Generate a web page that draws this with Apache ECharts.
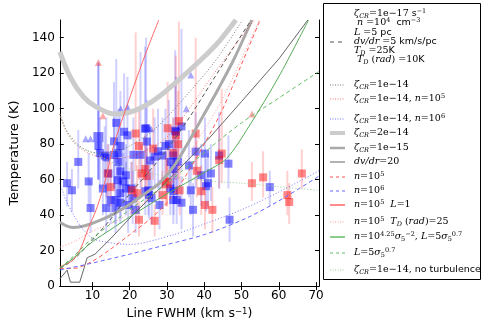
<!DOCTYPE html>
<html>
<head>
<meta charset="utf-8">
<script src="https://cdn.jsdelivr.net/npm/echarts@6/dist/echarts.min.js"></script>
<style>
html, body { margin: 0; padding: 0; background: #fff; }
#main { width: 484px; height: 325px; }
</style>
</head>
<body>
<div id="main"></div>
<script>
// tick labels
var xTicks = [10, 20, 30, 40, 50, 60, 70];
var yTicks = [0, 20, 40, 60, 80, 100, 120, 140];

// observed clumps: [FWHM, T, T low, T high]
var blueSq = [
	[3.2, 58, 45, 70], [4.5, 54, 42, 66], [6.2, 70, 55, 88], [9, 59, 45, 75], [9.5, 44, 30, 60],
	[11.6, 79, 60, 100], [12, 75, 55, 95], [12.8, 55, 40, 70], [13.3, 73.6, 55, 90], [13.7, 72.5, 50, 95],
	[13.7, 44, 30, 58], [14.3, 63.5, 45, 80], [14.9, 48.5, 35, 62], [15.8, 81.6, 55, 115], [15.8, 74, 55, 95],
	[16.2, 48.5, 35, 62], [16.2, 44, 30, 58], [16.4, 92, 60, 128], [16.8, 59.7, 45, 75], [17, 75, 55, 100],
	[17, 70, 50, 90], [17.5, 79, 55, 110], [17.5, 64.7, 45, 85], [17.5, 52.4, 38, 68], [17.5, 47, 35, 60],
	[18.3, 59, 45, 75], [18.5, 87, 60, 120], [19, 62.5, 45, 80], [19, 55, 40, 70], [19.4, 85, 55, 118],
	[19.6, 45.7, 30, 60], [20.4, 55, 40, 70], [20.8, 49.6, 35, 65], [21, 74, 55, 95], [21.6, 43, 30, 58],
	[22.9, 74, 55, 132], [24.1, 88.7, 65, 135], [24.2, 53.5, 40, 68], [24.4, 89, 60, 140], [24.6, 81.5, 60, 105],
	[25, 54, 40, 70], [25.2, 51.4, 38, 66], [25.5, 70.8, 52, 90], [25.9, 49.6, 35, 65], [26.7, 73, 55, 95],
	[27.6, 76, 55, 100], [28, 45.7, 32, 60], [28.8, 73.6, 55, 95], [29.6, 79, 60, 100], [30.5, 80, 60, 105],
	[30.9, 55, 40, 70], [31, 70, 50, 90], [31.7, 73.6, 55, 95], [31.7, 48.5, 35, 65], [31.8, 66, 50, 85],
	[31.8, 53.5, 40, 70], [32.2, 87.6, 60, 133], [32.4, 87, 55, 118], [32.6, 48.5, 35, 62], [32.9, 70, 50, 90],
	[33.9, 90, 65, 145], [33.9, 47, 32, 62], [35.9, 68, 50, 88], [36.4, 54, 40, 70], [37, 43, 28, 58],
	[37.7, 75.8, 55, 98], [39.2, 62.5, 45, 80], [40.2, 74.7, 55, 95], [40.5, 56.3, 42, 72], [41, 58, 45, 75],
	[41.8, 63.5, 48, 80], [44, 73.6, 55, 98], [46.5, 69, 55, 85], [46.8, 37.4, 25, 50], [57.6, 55.8, 45, 65]
];
var blueBig = [[11.6, 84, 60, 126]];
var redSq = [
	[14.1, 63.5, 50, 80], [14.9, 55.8, 45, 70], [20.6, 54, 40, 70], [21.6, 86, 65, 143], [22, 52.4, 40, 68],
	[22.5, 79, 60, 100], [22.5, 37.4, 28, 48], [23.2, 63.5, 50, 80], [24.2, 66, 50, 85], [24.6, 62, 48, 78],
	[26.3, 77.5, 60, 100], [26.7, 36.8, 28, 46], [28.8, 51.3, 40, 65], [29.6, 59, 45, 75], [30.2, 89, 65, 115],
	[31.7, 75, 58, 95], [32.4, 85, 60, 130], [33, 80, 60, 110], [33.2, 93, 65, 149], [33.4, 54, 40, 68],
	[37.7, 86, 65, 140], [38, 65, 50, 82], [39.2, 53.5, 40, 68], [40.2, 45.7, 32, 60], [42.2, 43, 30, 56],
	[44, 71, 55, 90], [44.7, 74.7, 58, 111], [52.8, 58, 48, 70], [55.8, 61.3, 50, 76], [62.3, 51.3, 40, 65],
	[62.8, 47.4, 35, 58], [66.2, 63.5, 55, 77]
];
var redBig = [[30, 58, 45, 72]];
var blueTri = [[8.2, 83], [9.5, 83], [17.6, 100], [19.4, 101], [25.2, 89], [25.7, 88.7], [35.2, 100], [36.4, 119]];
var redTri = [[11.6, 126], [12.8, 96], [52.8, 97]];

// model curves: [FWHM, T]
var fiducial = [[1.25, 10], [3, 12], [6, 17], [10, 26], [15, 38], [20, 52], [25, 64], [30, 77], [36, 95], [42, 115], [48, 135], [52.6, 150]];
var cr14 = [[1.25, 97], [3, 88], [6, 80], [9, 76], [12, 75], [16, 76], [20, 79], [27, 89], [35, 107], [43, 127], [50.3, 150]];
var cr14n5 = [[1.25, 97], [3, 87], [6, 79], [10, 74], [15, 72], [20, 73], [25, 77], [30, 84], [36, 100], [42, 118], [48, 135], [53.5, 150]];
var cr14n6 = [[1.25, 58], [3, 48], [5, 40], [7.5, 32], [10, 27], [13, 25], [20, 23.5], [31, 28.5], [40, 35], [50, 43], [60, 53], [70.8, 65]];
var cr2e14 = [[1.25, 132], [4, 118], [7.5, 107], [11, 101], [15.8, 97], [20, 98], [24, 101.5], [28, 107], [33.4, 116.6], [39.2, 127.7], [44, 138], [48.5, 150]];
var cr1e15 = [[1.25, 36], [3, 34], [5, 33], [8, 34], [12, 37], [16, 41], [20, 46], [24, 52], [28, 58], [32, 68], [36, 82], [40, 97], [44, 112], [48, 128], [52.8, 150]];
var dvdr20 = [[1.25, 4], [3.2, 9], [4.1, 2.2], [6.6, 2.2], [8.6, 16], [10.7, 18], [15, 27], [20.8, 40], [30, 59], [41.6, 84], [50, 104], [60, 128], [67.8, 150]];
var n5 = [[1.25, 10], [5, 10], [10, 14], [15, 21], [20, 29], [25, 37], [30, 47], [35, 62], [40, 80], [45, 100], [50, 125], [55, 150]];
var n6 = [[1.25, 9], [10, 13], [20, 18], [30, 23.4], [40, 29], [51, 38], [60, 48], [70.8, 62]];
var n5L1 = [[1.25, 11], [3, 12.5], [5, 15], [7, 22], [9, 33], [11, 43], [13, 56], [15.8, 80], [18.5, 97], [22, 118], [25, 135], [27.8, 150]];
var n5Trad = [[1.25, 22], [5, 25], [10, 31], [15.8, 36], [20, 41], [25, 49], [30, 58], [35, 72], [40, 88], [45, 106], [50, 128], [54.8, 150]];
var nSigma = [[1.25, 10], [5, 16], [10, 25], [15, 32], [20, 39], [30, 52], [40, 64], [46, 72], [52, 90], [60, 118], [68, 150]];
var lSigma = [[1.25, 10], [5, 17], [10, 27], [20, 43], [30, 58], [41, 77], [50, 92], [60, 106], [70.8, 121]];
var noTurb = [[1.25, 97], [2.5, 90], [5, 81], [8, 77], [11.5, 74], [15, 70], [20, 66], [30, 62], [40, 59.5], [50, 58], [60, 56], [70.8, 54]];

var chart = echarts.init(document.getElementById('main'));

function curve(data, color, width, type, smooth) {
	return {
		type : 'line',
		data : data,
		showSymbol : false,
		smooth : smooth === undefined ? 0.3 : smooth,
		silent : true,
		lineStyle : { color : color, width : width, type : type },
		z : 5
	};
}

function errBars(data, color) {
	return {
		type : 'custom',
		silent : true,
		z : 3,
		data : data.map(function(d) { return [d[0], d[2], d[3]]; }),
		renderItem : function(params, api) {
			var p1 = api.coord([api.value(0), api.value(1)]);
			var p2 = api.coord([api.value(0), api.value(2)]);
			return {
				type : 'line',
				shape : { x1 : p1[0], y1 : p1[1], x2 : p2[0], y2 : p2[1] },
				style : { stroke : color, lineWidth : 2 }
			};
		}
	};
}

function points(data, symbol, size, color) {
	return {
		type : 'scatter',
		symbol : symbol,
		symbolSize : size,
		silent : true,
		z : 4,
		data : data.map(function(d) { return [d[0], d[1]]; }),
		itemStyle : { color : color }
	};
}

var blueA = 'rgba(0,0,255,0.62)';
var redA = 'rgba(255,0,0,0.58)';

// legend rows: y position, sample style, text
var rich = {
	m : { fontFamily : 'DejaVu Serif', fontStyle : 'italic', fontSize : 9.5, fill : '#000' },
	n : { fontFamily : 'DejaVu Serif', fontSize : 9.5, fill : '#000' },
	s : { fontFamily : 'DejaVu Sans', fontSize : 9.5, fill : '#000' },
	sb : { fontFamily : 'DejaVu Serif', fontStyle : 'italic', fontSize : 6.5, fill : '#000', verticalAlign : 'bottom' },
	sbn : { fontFamily : 'DejaVu Serif', fontSize : 6.5, fill : '#000', verticalAlign : 'bottom' },
	sp : { fontFamily : 'DejaVu Serif', fontSize : 6.5, fill : '#000', verticalAlign : 'top' }
};
var legendRows = [
	[14, null, '{m|ζ}{sb|CR}{n|=1e−17 }{s|s}{sp|−1}'],
	[23, null, '{m| n}{n| =10}{sp|4}{s|  cm}{sp|−3}'],
	[33, null, '{m|L}{n| =5 }{s|pc}'],
	[42, ['#555', 1, [4, 4]], '{m|dv/dr}{n| =5 }{s|km/s/pc}'],
	[51, null, '{m|T}{sb|D}{n| =25}{s|K}'],
	[60, null, '{m| T}{sb|D}{n| (}{m|rad}{n|) =10}{s|K}'],
	[85, ['#777', 1, [1, 1.5]], '{m|ζ}{sb|CR}{n|=1e−14}'],
	[99, ['rgba(255,0,0,0.55)', 1, [1, 1.5]], '{m|ζ}{sb|CR}{n|=1e−14, }{m|n}{n|=10}{sp|5}'],
	[119, ['rgba(0,0,255,0.55)', 1, [1, 1.5]], '{m|ζ}{sb|CR}{n|=1e−14, }{m|n}{n|=10}{sp|6}'],
	[133, ['#cccccc', 4, null], '{m|ζ}{sb|CR}{n|=2e−14}'],
	[148, ['#aaaaaa', 2.5, null], '{m|ζ}{sb|CR}{n|=1e−15}'],
	[162, ['#666', 1, null], '{m|dv/dr}{n|=20}'],
	[177, ['#ff5555', 1, [3, 3]], '{m|n}{n|=10}{sp|5}'],
	[191, ['#6666ff', 1, [3, 3]], '{m|n}{n|=10}{sp|6}'],
	[205, ['#ff6666', 1.5, null], '{m|n}{n|=10}{sp|5}{n|  }{m|L}{n|=1}'],
	[222, ['#ff9999', 1, [1, 1.5]], '{m|n}{n|=10}{sp|5}{n|  }{m|T}{sb|D}{n| (}{m|rad}{n|)=25}'],
	[237, ['#66bb66', 1.5, null], '{m|n}{n|=10}{sp|4.25}{m|σ}{sbn|5}{sp|−2}{n|, }{m|L}{n|=5}{m|σ}{sbn|5}{sp|0.7}'],
	[253, ['#66bb66', 1, [3, 3]], '{m|L}{n|=5}{m|σ}{sbn|5}{sp|0.7}'],
	[270, ['#99cc99', 1, [1, 1.5]], '{m|ζ}{sb|CR}{n|=1e−14, }{s|no turbulence}']
];

var graphics = [{
	type : 'rect',
	shape : { x : 323.5, y : 3.5, width : 157, height : 276 },
	style : { fill : '#fff', stroke : '#000', lineWidth : 1 },
	z : 10
}];
legendRows.forEach(function(r) {
	if (r[1]) {
		graphics.push({
			type : 'line',
			shape : { x1 : 330, y1 : r[0], x2 : 345, y2 : r[0] },
			style : { stroke : r[1][0], lineWidth : r[1][1], lineDash : r[1][2] },
			z : 11
		});
	}
	graphics.push({
		type : 'text',
		x : 354,
		y : r[0],
		style : { text : r[2], rich : rich, verticalAlign : 'middle', lineHeight : 12 },
		z : 11
	});
});

var option = {
	animation : false,
	grid : { left : 42, top : 20, width : 277, height : 269.5 },
	xAxis : [{
		type : 'value',
		min : 1.25,
		max : 70.8,
		name : '{a|Line FWHM (km s}{b|−1}{a|)}',
		nameLocation : 'middle',
		nameGap : 13,
		nameTextStyle : {
			rich : {
				a : { fontFamily : 'DejaVu Sans', fontSize : 12.5, color : '#000' },
				b : { fontFamily : 'DejaVu Sans', fontSize : 8.5, color : '#000', verticalAlign : 'top' }
			}
		},
		axisLine : { lineStyle : { color : '#000', width : 1 } },
		axisTick : { inside : true, length : 4, customValues : xTicks, lineStyle : { color : '#000' } },
		axisLabel : { customValues : xTicks, color : '#000', fontFamily : 'DejaVu Sans', fontSize : 12, margin : 4 },
		splitLine : { show : false }
	}, {
		type : 'value',
		position : 'top',
		min : 1.25,
		max : 70.8,
		axisLine : { lineStyle : { color : '#000', width : 1 } },
		axisTick : { inside : true, length : 4, customValues : xTicks, lineStyle : { color : '#000' } },
		axisLabel : { show : false },
		splitLine : { show : false }
	}],
	yAxis : [{
		type : 'value',
		min : 0,
		max : 150,
		name : 'Temperature (K)',
		nameLocation : 'middle',
		nameGap : 28,
		nameTextStyle : { fontFamily : 'DejaVu Sans', fontSize : 13, color : '#000' },
		axisLine : { show : true, lineStyle : { color : '#000', width : 1 } },
		axisTick : { show : true, inside : true, length : 4, customValues : yTicks, lineStyle : { color : '#000' } },
		axisLabel : { customValues : yTicks, color : '#000', fontFamily : 'DejaVu Sans', fontSize : 12, margin : 5 },
		splitLine : { show : false }
	}, {
		type : 'value',
		position : 'right',
		min : 0,
		max : 150,
		axisLine : { show : true, lineStyle : { color : '#000', width : 1 } },
		axisTick : { show : true, inside : true, length : 4, customValues : yTicks, lineStyle : { color : '#000' } },
		axisLabel : { show : false },
		splitLine : { show : false }
	}],
	graphic : graphics,
	series : [
		curve(cr2e14, '#cccccc', 5, 'solid'),
		curve(cr1e15, '#aaaaaa', 3, 'solid'),
		errBars(blueSq, 'rgba(40,40,255,0.22)'),
		errBars(blueBig, 'rgba(40,40,255,0.45)'),
		errBars(redSq, 'rgba(255,40,40,0.22)'),
		errBars(redBig, 'rgba(255,40,40,0.4)'),
		points(blueSq, 'rect', 8, blueA),
		points(blueBig, 'rect', 10, blueA),
		points(redSq, 'rect', 8, redA),
		points(redBig, 'rect', 10, redA),
		points(blueTri, 'triangle', 7, 'rgba(40,40,255,0.5)'),
		points(redTri, 'triangle', 7, 'rgba(255,40,40,0.5)'),
		curve(fiducial, '#555', 1, [4, 3]),
		curve(cr14, '#777', 1, [1, 2]),
		curve(cr14n5, 'rgba(255,0,0,0.55)', 1, [1, 2]),
		curve(cr14n6, 'rgba(0,0,255,0.55)', 1, [1, 2]),
		curve(dvdr20, '#666', 1, 'solid', false),
		curve(n5, '#ff5555', 1, [4, 3]),
		curve(n6, '#6666ff', 1, [4, 3]),
		curve(n5L1, '#ff6666', 1, 'solid'),
		curve(n5Trad, '#ff9999', 1, [1, 2]),
		curve(nSigma, '#55aa55', 1, 'solid'),
		curve(lSigma, '#66bb66', 1, [4, 3]),
		curve(noTurb, '#99cc99', 1, [1, 2])
	]
};
chart.setOption(option);
</script>
</body>
</html>
